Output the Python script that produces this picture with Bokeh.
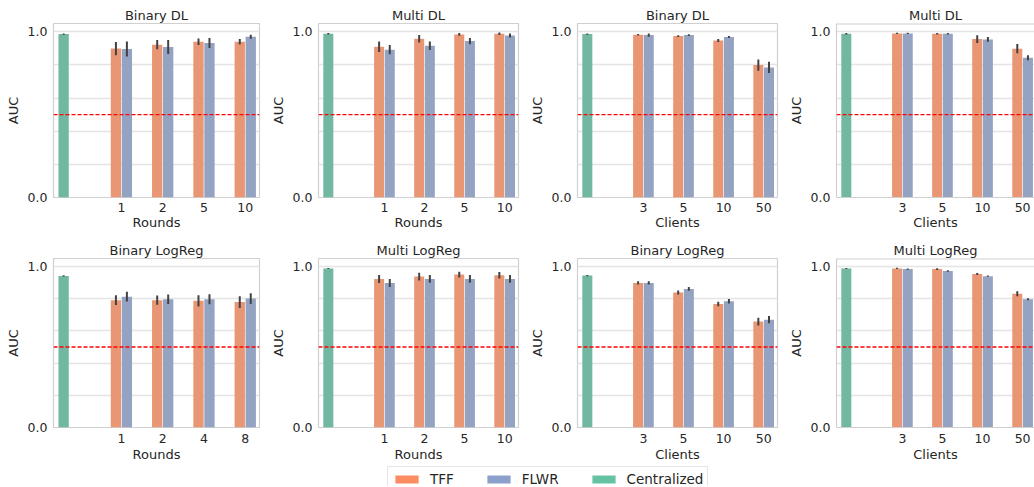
from bokeh.plotting import figure
from bokeh.layouts import column, row
from bokeh.models import Range1d, FixedTicker, Span, PrintfTickFormatter, Legend, LegendItem
from bokeh.embed import file_html
from bokeh.resources import INLINE

# ---------------- data ----------------
rounds_dl = ["1", "2", "5", "10"]
rounds_lr = ["1", "2", "4", "8"]
clients = ["3", "5", "10", "50"]

titles = ["Binary DL", "Multi DL", "Binary DL", "Multi DL",
          "Binary LogReg", "Multi LogReg", "Binary LogReg", "Multi LogReg"]
xlabels = ["Rounds", "Rounds", "Clients", "Clients",
           "Rounds", "Rounds", "Clients", "Clients"]

central = [0.986, 0.988, 0.986, 0.988, 0.942, 0.988, 0.944, 0.988]
central_err = [0.004, 0.004, 0.004, 0.004, 0.004, 0.003, 0.004, 0.003]

bin_dl_rounds_tff = [0.899, 0.922, 0.940, 0.940]
bin_dl_rounds_tff_err = [0.040, 0.028, 0.020, 0.017]
bin_dl_rounds_flwr = [0.896, 0.908, 0.932, 0.970]
bin_dl_rounds_flwr_err = [0.045, 0.042, 0.030, 0.012]

multi_dl_rounds_tff = [0.910, 0.958, 0.984, 0.988]
multi_dl_rounds_tff_err = [0.032, 0.022, 0.008, 0.007]
multi_dl_rounds_flwr = [0.892, 0.916, 0.944, 0.978]
multi_dl_rounds_flwr_err = [0.028, 0.026, 0.019, 0.012]

bin_dl_clients_tff = [0.982, 0.974, 0.948, 0.799]
bin_dl_clients_tff_err = [0.004, 0.005, 0.009, 0.034]
bin_dl_clients_flwr = [0.980, 0.980, 0.968, 0.785]
bin_dl_clients_flwr_err = [0.010, 0.005, 0.006, 0.034]

multi_dl_clients_tff = [0.990, 0.988, 0.956, 0.898]
multi_dl_clients_tff_err = [0.004, 0.004, 0.023, 0.028]
multi_dl_clients_flwr = [0.990, 0.988, 0.954, 0.843]
multi_dl_clients_flwr_err = [0.004, 0.004, 0.014, 0.015]

bin_lr_rounds_tff = [0.791, 0.791, 0.787, 0.779]
bin_lr_rounds_tff_err = [0.030, 0.029, 0.035, 0.037]
bin_lr_rounds_flwr = [0.813, 0.797, 0.797, 0.801]
bin_lr_rounds_flwr_err = [0.030, 0.030, 0.031, 0.033]

multi_lr_rounds_tff = [0.923, 0.938, 0.950, 0.946]
multi_lr_rounds_tff_err = [0.025, 0.024, 0.018, 0.020]
multi_lr_rounds_flwr = [0.898, 0.923, 0.923, 0.923]
multi_lr_rounds_flwr_err = [0.025, 0.024, 0.024, 0.024]

bin_lr_clients_tff = [0.898, 0.839, 0.767, 0.658]
bin_lr_clients_tff_err = [0.010, 0.012, 0.014, 0.024]
bin_lr_clients_flwr = [0.898, 0.861, 0.785, 0.670]
bin_lr_clients_flwr_err = [0.010, 0.012, 0.014, 0.022]

multi_lr_clients_tff = [0.988, 0.984, 0.954, 0.831]
multi_lr_clients_tff_err = [0.004, 0.005, 0.006, 0.015]
multi_lr_clients_flwr = [0.984, 0.972, 0.940, 0.797]
multi_lr_clients_flwr_err = [0.004, 0.005, 0.004, 0.006]

baseline = 0.5
legend_labels = ["TFF", "FLWR", "Centralized"]

panel_ticks = [rounds_dl, rounds_dl, clients, clients, rounds_lr, rounds_dl, clients, clients]
panel_tff = [bin_dl_rounds_tff, multi_dl_rounds_tff, bin_dl_clients_tff, multi_dl_clients_tff,
             bin_lr_rounds_tff, multi_lr_rounds_tff, bin_lr_clients_tff, multi_lr_clients_tff]
panel_tff_err = [bin_dl_rounds_tff_err, multi_dl_rounds_tff_err, bin_dl_clients_tff_err, multi_dl_clients_tff_err,
                 bin_lr_rounds_tff_err, multi_lr_rounds_tff_err, bin_lr_clients_tff_err, multi_lr_clients_tff_err]
panel_flwr = [bin_dl_rounds_flwr, multi_dl_rounds_flwr, bin_dl_clients_flwr, multi_dl_clients_flwr,
              bin_lr_rounds_flwr, multi_lr_rounds_flwr, bin_lr_clients_flwr, multi_lr_clients_flwr]
panel_flwr_err = [bin_dl_rounds_flwr_err, multi_dl_rounds_flwr_err, bin_dl_clients_flwr_err, multi_dl_clients_flwr_err,
                  bin_lr_rounds_flwr_err, multi_lr_rounds_flwr_err, bin_lr_clients_flwr_err, multi_lr_clients_flwr_err]

# ---------------- style ----------------
C_TFF, C_FLWR, C_CEN = "#e99675", "#95a3c3", "#71b7a1"
L_TFF, L_FLWR, L_CEN = "#fc8d62", "#8da0cb", "#66c2a5"
ERR = "#424242"
SPINE = "#d0d0d0"
GRID = "#e4e4e4"
TXT = "#262626"
FONT = "DejaVu Sans"

PX_PER_UNIT = 206 / 4.99
X0 = -0.645
BAR_W = 0.25
OFF = 0.133
CEN_X = -0.4


def make_panel(i):
    col = i % 4
    r = i // 4
    last = col == 3
    mb_left = 53 if col == 0 else 45
    mb_right = 0 if last else 8
    frame_w = 204 if last else 206
    width = mb_left + frame_w + mb_right
    top = 23 if r == 0 else 15
    height = 240 if r == 0 else 224
    x_end = X0 + frame_w / PX_PER_UNIT
    p = figure(width=width, height=height, output_backend="svg", toolbar_location=None,
               x_range=Range1d(X0, x_end), y_range=Range1d(0, 1.05),
               min_border_left=mb_left, min_border_right=mb_right,
               min_border_top=top, min_border_bottom=height - top - 174,
               title=titles[i])
    p.title.text_font = FONT
    p.title.text_font_size = "13px"
    p.title.text_font_style = "normal"
    p.title.text_color = TXT
    p.title.align = "center"
    p.title.standoff = 1

    p.background_fill_color = "white"
    p.border_fill_color = "white"
    if last:
        p.outline_line_color = None
    else:
        p.outline_line_color = SPINE
        p.outline_line_width = 1.2

    p.xgrid.visible = False
    p.ygrid.ticker = FixedTicker(ticks=[0, 0.2, 0.4, 0.6, 0.8, 1.0])
    p.ygrid.grid_line_color = GRID
    p.ygrid.grid_line_width = 1.3

    ticks = panel_ticks[i]
    xs = list(range(1, len(ticks) + 1))
    tff = panel_tff[i]
    tff_e = panel_tff_err[i]
    fl = panel_flwr[i]
    fl_e = panel_flwr_err[i]

    p.vbar(x=[CEN_X], top=[central[i]], width=BAR_W, bottom=0, fill_color=C_CEN, line_color=None)
    p.vbar(x=[x - OFF for x in xs], top=tff, width=BAR_W, bottom=0, fill_color=C_TFF, line_color=None)
    p.vbar(x=[x + OFF for x in xs], top=fl, width=BAR_W, bottom=0, fill_color=C_FLWR, line_color=None)

    ex = [CEN_X] + [x - OFF for x in xs] + [x + OFF for x in xs]
    ev = [central[i]] + list(tff) + list(fl)
    ee = [central_err[i]] + list(tff_e) + list(fl_e)
    p.segment(x0=ex, x1=ex, y0=[v - e for v, e in zip(ev, ee)], y1=[v + e for v, e in zip(ev, ee)],
              line_color=ERR, line_width=2)

    p.add_layout(Span(location=baseline, dimension="width", line_color="red",
                      line_dash="4 2", line_width=1.3))
    if last:
        p.add_layout(Span(location=1.05, dimension="width", line_color=SPINE, line_width=2))

    for ax in (p.xaxis[0], p.yaxis[0]):
        ax.major_tick_out = 0
        ax.major_tick_in = 0
        ax.minor_tick_out = 0
        ax.minor_tick_in = 0
        ax.major_label_text_font = FONT
        ax.major_label_text_font_size = "12.5px"
        ax.major_label_text_color = TXT
        ax.axis_label_text_font = FONT
        ax.axis_label_text_font_size = "13px"
        ax.axis_label_text_font_style = "normal"
        ax.axis_label_text_color = TXT
        ax.axis_line_color = SPINE if last else None
        ax.axis_line_width = 1.2

    p.yaxis.ticker = FixedTicker(ticks=[0, 1])
    p.yaxis.formatter = PrintfTickFormatter(format="%.1f")
    p.yaxis.axis_label = "AUC"
    p.yaxis.major_label_standoff = 6
    p.yaxis.axis_label_standoff = 4

    p.xaxis.ticker = FixedTicker(ticks=xs)
    p.xaxis.major_label_overrides = {x: t for x, t in zip(xs, ticks)}
    p.xaxis.axis_label = xlabels[i]
    p.xaxis.major_label_standoff = 5 if r == 0 else 6
    p.xaxis.axis_label_standoff = 0 if r == 0 else 1
    return p


panels = [make_panel(i) for i in range(8)]

# legend strip (swatch renderers sit outside the visible range)
lg = figure(width=1034, height=22, output_backend="svg", toolbar_location=None,
            x_axis_type=None, y_axis_type=None, x_range=Range1d(0, 1), y_range=Range1d(0, 1),
            min_border_left=387, min_border_right=0, min_border_top=2, min_border_bottom=0)
lg.outline_line_color = None
lg.grid.visible = False
lg.background_fill_color = "white"
rs = []
for c in (L_TFF, L_FLWR, L_CEN):
    rs.append(lg.vbar(x=[-5], top=[-5], bottom=[-6], width=0.1, fill_color=c, line_color=None))
legend = Legend(items=[LegendItem(label=l, renderers=[rr]) for l, rr in zip(legend_labels, rs)],
                orientation="horizontal", location="top_left", margin=0,
                glyph_width=29, glyph_height=10, label_standoff=9, spacing=30, padding=4,
                label_height=12, label_text_font=FONT, label_text_font_size="13.5px",
                label_text_color=TXT, border_line_color="#cccccc", border_line_width=1,
                background_fill_color="white", background_fill_alpha=1)
lg.add_layout(legend, "center")

layout = column(row(*panels[:4], spacing=0), row(*panels[4:], spacing=0), lg, spacing=0)

open("out.html", "w").write(file_html(layout, INLINE))
